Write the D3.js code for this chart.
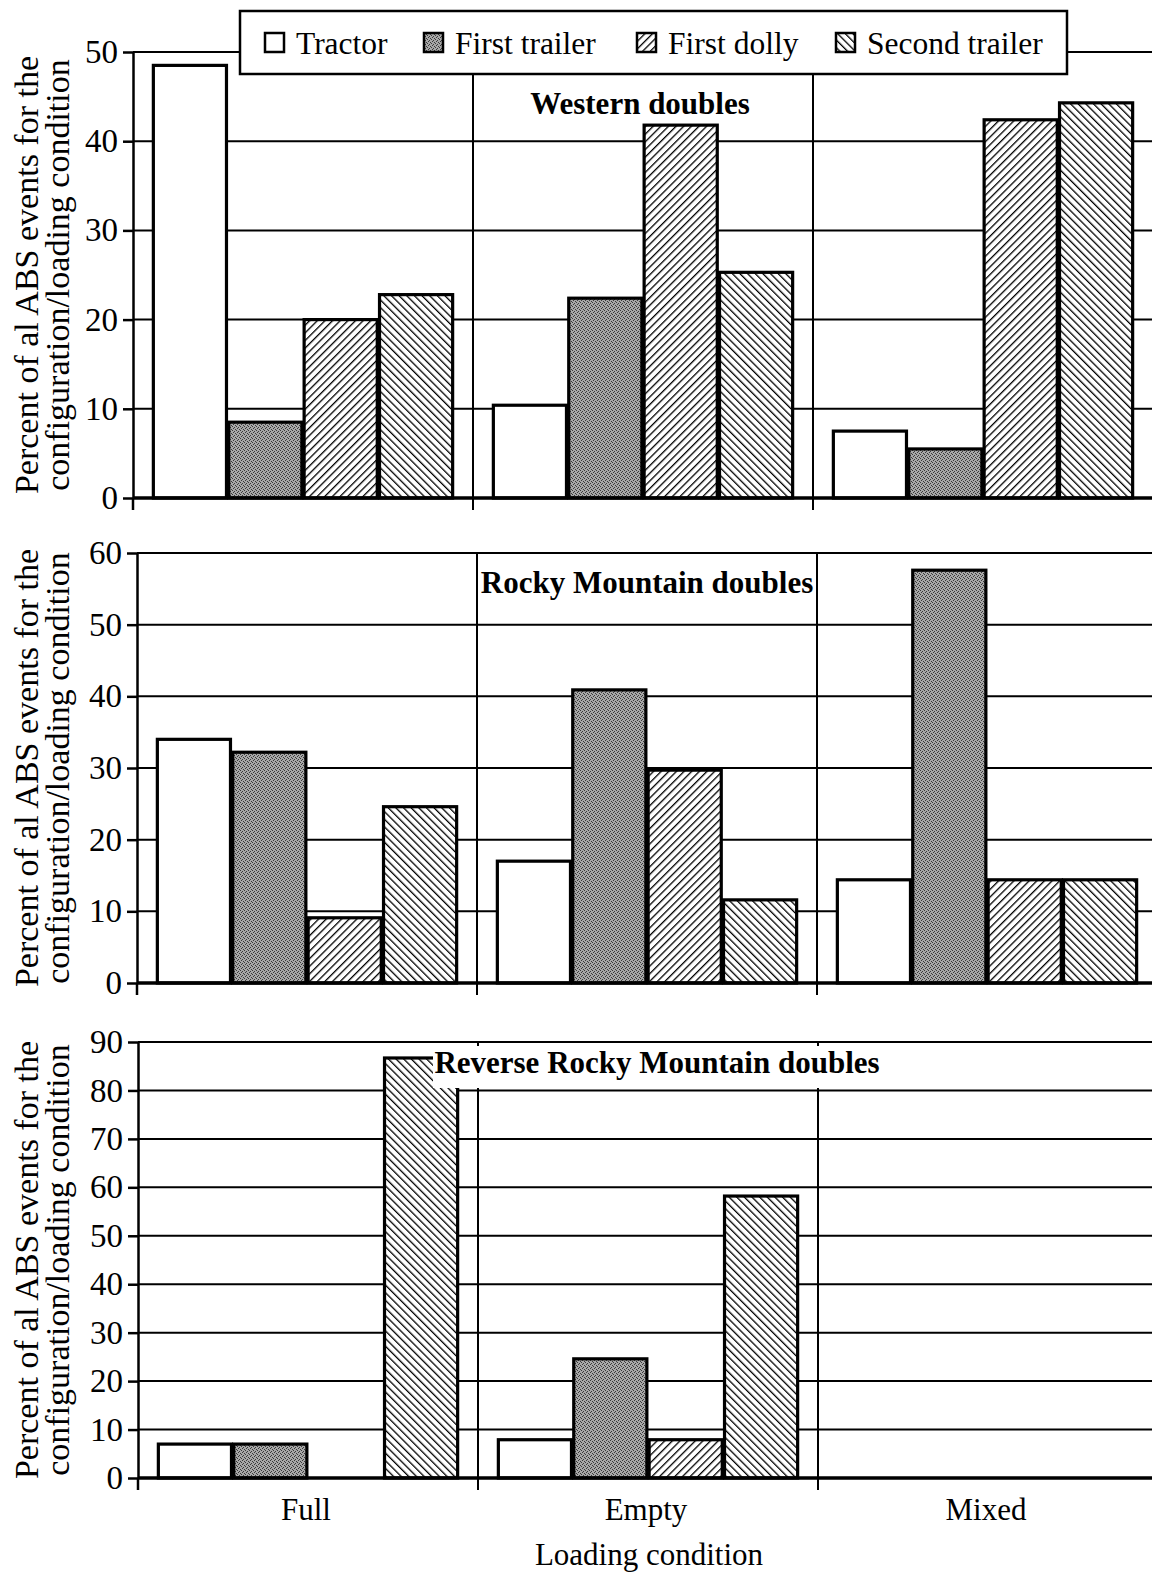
<html>
<head>
    <script src="https://cdn.jsdelivr.net/npm/d3@7"></script>
    <style>
        body { margin: 0; background: white; }
        svg { font-family: "Liberation Serif", "Times New Roman", serif; }
    </style>
</head>
<body>
<svg id="chart"></svg>
<script>
    // categories
    const conditions = ["Full", "Empty", "Mixed"];
    const components = ["Tractor", "First trailer", "First dolly", "Second trailer"];
    const panelTitles = ["Western doubles", "Rocky Mountain doubles", "Reverse Rocky Mountain doubles"];

    // values per loading condition: [tractor, first trailer, first dolly, second trailer]
    const westernValues = [
        [48.5, 8.5, 20.0, 22.8],
        [10.4, 22.4, 41.8, 25.3],
        [7.5, 5.5, 42.4, 44.3]
    ];
    const rockyValues = [
        [34.0, 32.2, 9.1, 24.6],
        [17.0, 40.9, 29.7, 11.6],
        [14.4, 57.6, 14.4, 14.4]
    ];
    const reverseValues = [
        [7.0, 7.0, 0, 86.7],
        [7.9, 24.6, 7.9, 58.2],
        [0, 0, 0, 0]
    ];

    // tick labels
    const westernTicks = [0, 10, 20, 30, 40, 50];
    const rockyTicks = [0, 10, 20, 30, 40, 50, 60];
    const reverseTicks = [0, 10, 20, 30, 40, 50, 60, 70, 80, 90];

    const width = 1152, height = 1575;
    let svg = d3.select("#chart").attr("width", width).attr("height", height);

    // fills
    let defs = svg.append("defs");
    let stipple = defs.append("pattern").attr("id", "stipple")
        .attr("patternUnits", "userSpaceOnUse").attr("width", 4).attr("height", 4);
    stipple.append("rect").attr("width", 4).attr("height", 4).attr("fill", "#a8a8a8");
    [[0, 0], [2, 1], [1, 3], [3, 2]].forEach(p => {
        stipple.append("rect").attr("x", p[0]).attr("y", p[1])
            .attr("width", 1).attr("height", 1).attr("fill", "#3a3a3a");
    });

    function hatch(id, angle) {
        let s = 5.4;
        let p = defs.append("pattern").attr("id", id)
            .attr("patternUnits", "userSpaceOnUse")
            .attr("width", s).attr("height", s)
            .attr("patternTransform", `rotate(${angle})`);
        p.append("rect").attr("width", s).attr("height", s).attr("fill", "white");
        p.append("line").attr("x1", 0).attr("y1", 0).attr("x2", 0).attr("y2", s)
            .attr("stroke", "black").attr("stroke-width", 2.6);
    }
    hatch("hatchUp", 45);
    hatch("hatchDown", -45);

    const fills = {
        "Tractor": "white",
        "First trailer": "url(#stipple)",
        "First dolly": "url(#hatchUp)",
        "Second trailer": "url(#hatchDown)"
    };

    function drawPanel(values, ticks, title, layout, showX) {
        let { top, bottom, left, titleX, titleY, titleBox } = layout;
        let yScale = d3.scaleLinear().domain([0, d3.max(ticks)]).range([bottom, top]);
        let xScale = d3.scaleBand().domain(conditions).range([left, left + 3 * 340]);
        let xInner = d3.scaleBand().domain(components)
            .range([0, xScale.bandwidth()])
            .paddingInner(0.03).paddingOuter(0.27);

        let g = svg.append("g");

        // grid
        g.selectAll(".grid")
            .data(ticks.filter(t => t > 0))
            .enter().append("line")
            .attr("x1", left).attr("x2", width)
            .attr("y1", d => yScale(d)).attr("y2", d => yScale(d))
            .attr("stroke", "black").attr("stroke-width", 2);

        // group dividers
        g.selectAll(".divider")
            .data(conditions.slice(1))
            .enter().append("line")
            .attr("x1", d => xScale(d)).attr("x2", d => xScale(d))
            .attr("y1", top).attr("y2", bottom + 12)
            .attr("stroke", "black").attr("stroke-width", 2);

        // bars
        let groups = g.selectAll(".cond")
            .data(values)
            .enter().append("g")
            .attr("transform", (d, i) => `translate(${xScale(conditions[i])},0)`);
        groups.selectAll("rect")
            .data(d => d.map((v, j) => ({ key: components[j], value: v })).filter(b => b.value > 0))
            .enter().append("rect")
            .attr("x", d => xInner(d.key))
            .attr("width", xInner.bandwidth())
            .attr("y", d => yScale(d.value))
            .attr("height", d => bottom - yScale(d.value))
            .attr("fill", d => fills[d.key])
            .attr("stroke", "black").attr("stroke-width", 3.2);

        // baseline
        g.append("line")
            .attr("x1", left).attr("x2", width)
            .attr("y1", bottom).attr("y2", bottom)
            .attr("stroke", "black").attr("stroke-width", 3.5);

        // y axis
        let axisY = d3.axisLeft(yScale).tickValues(ticks).tickSize(10).tickSizeOuter(0).tickPadding(5);
        let ag = g.append("g").attr("transform", `translate(${left},0)`).call(axisY);
        ag.select(".domain").attr("stroke-width", 2.5);
        ag.selectAll(".tick line").attr("stroke-width", 2.5);
        ag.selectAll(".tick text").attr("font-size", 33).attr("font-family", "Liberation Serif").attr("fill", "black");
        g.append("line")
            .attr("x1", left).attr("x2", left)
            .attr("y1", bottom).attr("y2", bottom + 12)
            .attr("stroke", "black").attr("stroke-width", 2.5);

        // y label
        let mid = (top + bottom) / 2;
        let lab = g.append("text")
            .attr("transform", `translate(38,${mid}) rotate(-90)`)
            .attr("text-anchor", "middle")
            .attr("font-size", 34);
        lab.append("tspan").attr("x", 0).attr("y", 0).text("Percent of al ABS events for the");
        lab.append("tspan").attr("x", 0).attr("y", 31).text("configuration/loading condition");

        // title
        if (titleBox) {
            g.append("rect")
                .attr("x", titleBox[0]).attr("y", titleBox[1])
                .attr("width", titleBox[2]).attr("height", titleBox[3])
                .attr("fill", "white");
        }
        g.append("text")
            .attr("x", titleX).attr("y", titleY)
            .attr("text-anchor", "middle")
            .attr("font-size", 31).attr("font-weight", "bold")
            .text(title);

        if (showX) {
            let axisX = d3.axisBottom(xScale).tickSize(0).tickPadding(20);
            let xg = g.append("g").attr("transform", `translate(-2,${bottom})`).call(axisX);
            xg.select(".domain").remove();
            xg.selectAll("text").attr("font-size", 31).attr("font-family", "Liberation Serif").attr("fill", "black");
        }
        return { xScale, yScale };
    }

    drawPanel(westernValues, westernTicks, panelTitles[0],
        { top: 52, bottom: 498, left: 133, titleX: 640, titleY: 114 }, false);
    drawPanel(rockyValues, rockyTicks, panelTitles[1],
        { top: 553, bottom: 983, left: 137, titleX: 647, titleY: 593 }, false);
    drawPanel(reverseValues, reverseTicks, panelTitles[2],
        { top: 1042, bottom: 1478, left: 138, titleX: 657, titleY: 1073, titleBox: [433, 1046, 450, 42] }, true);

    // x axis title
    svg.append("text")
        .attr("x", 649).attr("y", 1565)
        .attr("text-anchor", "middle")
        .attr("font-size", 31)
        .text("Loading condition");

    // legend
    let legend = svg.append("g");
    legend.append("rect")
        .attr("x", 240).attr("y", 11).attr("width", 827).attr("height", 63)
        .attr("fill", "white").attr("stroke", "black").attr("stroke-width", 2.5);
    const legendX = [265, 424, 637, 836];
    let items = legend.selectAll(".item")
        .data(components)
        .enter().append("g")
        .attr("transform", (d, i) => `translate(${legendX[i]},33)`);
    items.append("rect")
        .attr("width", 19).attr("height", 19)
        .attr("fill", d => fills[d])
        .attr("stroke", "black").attr("stroke-width", 2.5);
    items.append("text")
        .attr("x", 31).attr("y", 21)
        .attr("font-size", 31.5)
        .text(d => d);
</script>
</body>
</html>
